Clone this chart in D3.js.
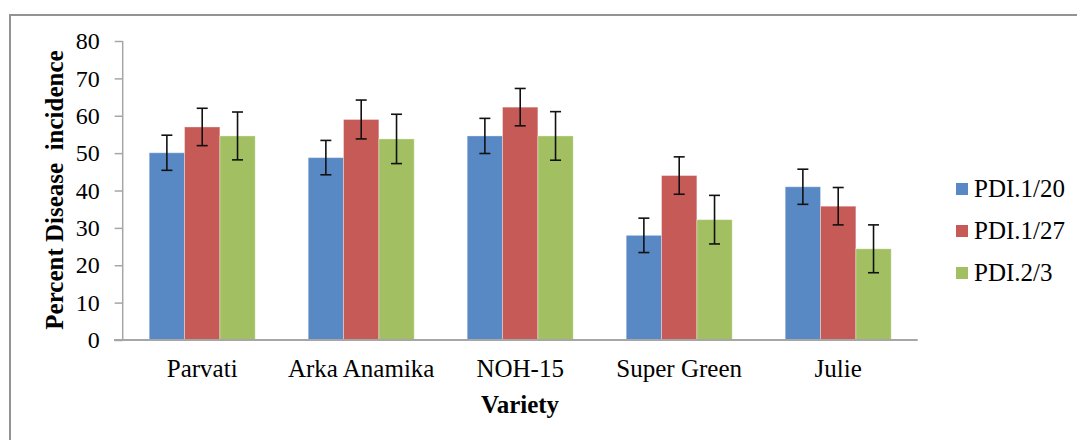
<!DOCTYPE html>
<html>
<head>
<meta charset="utf-8">
<script src="https://cdn.jsdelivr.net/npm/d3@7"></script>
<style>
  body { margin: 0; background: #fff; }
  svg text { font-family: "Liberation Serif", "Times New Roman", serif; fill: #000; }
</style>
</head>
<body>
<svg id="chart" width="1077" height="440"></svg>
<script>
// chart data
const varieties = ["Parvati", "Arka Anamika", "NOH-15", "Super Green", "Julie"];
const seriesNames = ["PDI.1/20", "PDI.1/27", "PDI.2/3"];
const pdi120 = [50.1, 48.8, 54.6, 28.0, 41.0];
const pdi127 = [57.0, 59.0, 62.3, 44.0, 35.8];
const pdi23 = [54.6, 53.8, 54.6, 32.2, 24.4];
const err120 = [4.7, 4.6, 4.7, 4.6, 4.7];
const err127 = [5.0, 5.2, 5.0, 5.0, 5.0];
const err23 = [6.4, 6.6, 6.5, 6.5, 6.4];
const yTicks = [0, 10, 20, 30, 40, 50, 60, 70, 80];
const colors = ["#5889c4", "#c55a57", "#a2c062"];

const values = [pdi120, pdi127, pdi23];
const errors = [err120, err127, err23];

let svg = d3.select("#chart");

// outer frame (right/bottom edges run off the picture)
svg.append("rect")
    .attr("x", 10).attr("y", 15)
    .attr("width", 1100).attr("height", 460)
    .attr("fill", "none")
    .attr("stroke", "#939393")
    .attr("stroke-width", 2);

let x0 = d3.scaleBand()
    .domain(varieties)
    .range([122.7, 917.7])
    .paddingInner(1 / 3)
    .paddingOuter(1 / 6);

let x1 = d3.scaleBand()
    .domain(seriesNames)
    .range([0, x0.bandwidth()]);

let y = d3.scaleLinear().domain([0, 80]).range([340, 41]);

// y axis
let yAxis = svg.append("g")
    .attr("transform", "translate(122.7,0)")
    .attr("font-family", null)
    .call(d3.axisLeft(y).tickValues(yTicks).tickSize(8).tickPadding(15));
yAxis.attr("font-family", null);
yAxis.selectAll("line, path").attr("stroke", "#a6a6a6").attr("stroke-width", 1.5);
yAxis.select(".domain").attr("d", "M0," + y(80) + "V" + y(0));
yAxis.selectAll("text")
    .style("font-family", "'Liberation Serif', 'Times New Roman', serif")
    .style("font-size", "24px")
    .attr("fill", "#000");

// bars
let rows = [];
varieties.forEach((v, i) => {
    seriesNames.forEach((s, j) => {
        rows.push({variety: v, series: s, value: values[j][i], err: errors[j][i], color: colors[j]});
    });
});

svg.append("g").selectAll("rect")
    .data(rows)
    .join("rect")
    .attr("x", d => x0(d.variety) + x1(d.series))
    .attr("y", d => y(d.value))
    .attr("width", x1.bandwidth())
    .attr("height", d => y(0) - y(d.value))
    .attr("fill", d => d.color)
    .attr("stroke", "#ffffff")
    .attr("stroke-opacity", 0.35)
    .attr("stroke-width", 1);

// x axis line
svg.append("line")
    .attr("x1", 114).attr("x2", 917.7)
    .attr("y1", y(0)).attr("y2", y(0))
    .attr("stroke", "#a6a6a6")
    .attr("stroke-width", 2);

// error bars
let eb = svg.append("g").attr("stroke", "#111").attr("stroke-width", 1.6);
rows.forEach(d => {
    let cx = x0(d.variety) + x1(d.series) + x1.bandwidth() / 2;
    let top = y(d.value + d.err), bot = y(d.value - d.err);
    eb.append("line").attr("x1", cx).attr("x2", cx).attr("y1", top).attr("y2", bot);
    eb.append("line").attr("x1", cx - 5.5).attr("x2", cx + 5.5).attr("y1", top).attr("y2", top);
    eb.append("line").attr("x1", cx - 5.5).attr("x2", cx + 5.5).attr("y1", bot).attr("y2", bot);
});

// category labels
svg.append("g").selectAll("text")
    .data(varieties)
    .join("text")
    .attr("x", d => x0(d) + x0.bandwidth() / 2)
    .attr("y", 377)
    .attr("text-anchor", "middle")
    .attr("font-size", "25px")
    .text(d => d);

// axis titles
svg.append("text")
    .attr("x", 520).attr("y", 413)
    .attr("text-anchor", "middle")
    .attr("font-size", "25px")
    .attr("font-weight", "bold")
    .text("Variety");

svg.append("text")
    .attr("transform", "translate(63,190) rotate(-90)")
    .attr("text-anchor", "middle")
    .attr("font-size", "25px")
    .attr("font-weight", "bold")
    .style("white-space", "pre")
    .text("Percent Disease  incidence");

// legend
let legend = svg.append("g").selectAll("g")
    .data(seriesNames)
    .join("g")
    .attr("transform", (d, i) => "translate(956," + (183 + i * 42) + ")");
legend.append("rect")
    .attr("width", 12).attr("height", 12)
    .attr("fill", (d, i) => colors[i]);
legend.append("text")
    .attr("x", 18).attr("y", 14)
    .attr("font-size", "25px")
    .text(d => d);
</script>
</body>
</html>
